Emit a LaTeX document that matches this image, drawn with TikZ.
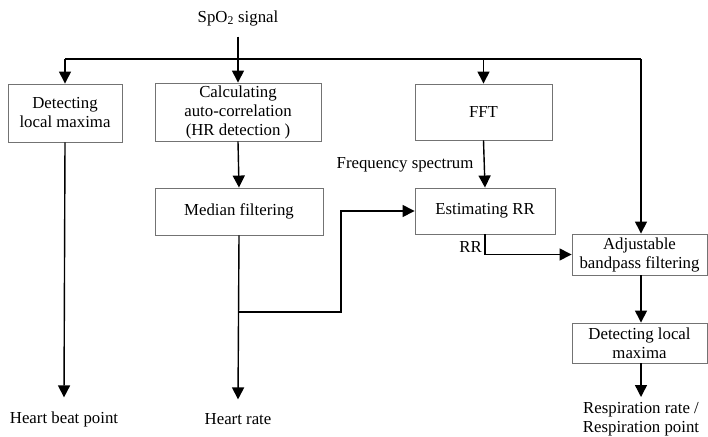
\documentclass[tikz,border=0pt]{standalone}
\usepackage{fontspec}
\setmainfont{Liberation Serif}
\usetikzlibrary{arrows.meta,positioning}
\tikzset{
  box/.style={draw=black!55, line width=0.9pt, rectangle, align=center, inner sep=2pt},
  txt/.style={align=center, inner sep=0pt},
  conn/.style={line width=1.4pt, black},
  arr/.style={conn, -{Triangle[length=12pt,width=12pt]}},
}
\begin{document}
\begin{tikzpicture}[x=1pt,y=-1pt, font=\fontsize{16.8}{19}\selectfont]
\useasboundingbox (0,0) rectangle (708,436);
% boxes
\node[box, minimum width=114pt, minimum height=58pt] (b1) at (65,113) {Detecting\\local maxima};
\node[box, minimum width=166pt, minimum height=58pt] (b2) at (238,112) {Calculating\\auto-correlation\\(HR detection )};
\node[box, minimum width=137pt, minimum height=56pt] (fft) at (483.5,112) {FFT};
\node[box, minimum width=168pt, minimum height=47pt] (med) at (239,211.5) {Median filtering};
\node[box, minimum width=140pt, minimum height=46pt] (est) at (485,211) {Estimating RR};
\node[box, minimum width=135pt, minimum height=41pt] (adj) at (639.5,254.5) {Adjustable\\bandpass filtering};
\node[box, minimum width=135pt, minimum height=40pt] (det) at (639.5,343) {Detecting local\\maxima};
% texts
\node[txt, outer ysep=11pt] (spo) at (238,18) {SpO\textsubscript{2} signal};
\node[txt] (freq) at (405,165) {Frequency spectrum};
\node[txt, anchor=east] (rr) at (482,247) {RR};
\node[txt, outer ysep=14pt] (hb) at (64,419) {Heart beat point};
\node[txt, outer ysep=14pt] (hr) at (238,419) {Heart rate};
\node[txt, anchor=north, outer ysep=5pt] (resp) at (641,397) {Respiration rate /\\Respiration point};
% coordinates
\coordinate (busL) at (65,59);
\coordinate (busC) at (238,59);
\coordinate (busF) at (483.5,59);
\coordinate (busR) at (641,59);
\coordinate (br) at (239,312);
\coordinate (bend) at (341,312);
% connectors
\draw[conn] (busL) -- (busR);
\draw[arr] (spo.south) -- (b2.north);
\draw[arr] (busL) -- (b1.north);
\draw[arr] (busF) -- (fft.north);
\draw[arr] (busR) -- (busR |- adj.north);
\draw[arr] (b2.south) -- (med.north);
\draw[arr] (fft.south) -- (est.north);
\draw[arr] (b1.south) -- (hb.north);
\draw[arr] (med.south) -- (hr.north);
\draw[arr] (br) -- (bend) -- (bend |- est.west) -- (est.west);
\draw[arr] (est.south) |- (adj.west);
\draw[arr] (busR |- adj.south) -- (busR |- det.north);
\draw[arr] (busR |- det.south) -- (resp.north);
\end{tikzpicture}
\end{document}
